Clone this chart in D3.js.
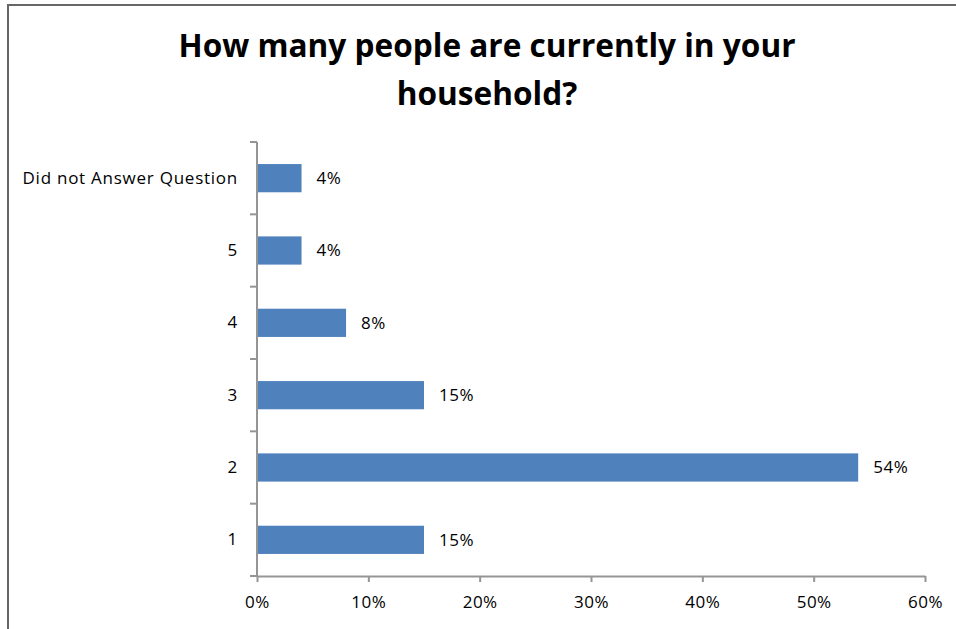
<!DOCTYPE html>
<html>
<head>
<meta charset="utf-8">
<script src="https://cdn.jsdelivr.net/npm/d3@7"></script>
<style>
  html, body { margin: 0; padding: 0; background: #fff; }
  svg { display: block; }
  text { font-family: "Open Sans", sans-serif; fill: #000; }
</style>
</head>
<body>
<svg id="chart" width="956" height="629"></svg>
<script>
// Household size survey responses (share of respondents, %)
const categories = ["1", "2", "3", "4", "5", "Did not Answer Question"];
const values = [15, 54, 15, 8, 4, 4];
const xTicks = [0, 10, 20, 30, 40, 50, 60];
const titleLines = ["How many people are currently in your", "household?"];

const svg = d3.select("#chart");
const W = 956, H = 629;

// outer frame
svg.append("rect")
  .attr("x", 8).attr("y", 5)
  .attr("width", W + 10).attr("height", H + 10)
  .attr("fill", "#fff")
  .attr("stroke", "#676767")
  .attr("stroke-width", 2);

const margin = { left: 257, right: 31, top: 142, bottom: 53 };
const plotW = W - margin.left - margin.right;
const plotH = H - margin.top - margin.bottom;

const x = d3.scaleLinear().domain([0, 60]).range([0, plotW]);
const y = d3.scaleBand()
  .domain(categories.slice().reverse())
  .range([0, plotH])
  .paddingInner(0.61)
  .paddingOuter(0.305);

const g = svg.append("g").attr("transform", `translate(${margin.left},${margin.top})`);

// title
svg.append("g").selectAll("text")
  .data(titleLines)
  .join("text")
  .attr("x", 487)
  .attr("y", (d, i) => 57 + i * 48)
  .attr("text-anchor", "middle")
  .style("font-size", "31.6px")
  .style("font-weight", "bold")
  .text(d => d);

const rows = categories.map((c, i) => ({ c, v: values[i] }));

// bars
g.selectAll("rect.bar")
  .data(rows)
  .join("rect")
  .attr("class", "bar")
  .attr("x", 0)
  .attr("y", d => y(d.c))
  .attr("width", d => x(d.v))
  .attr("height", y.bandwidth())
  .attr("fill", "#4f81bd");

// value labels
g.selectAll("text.val")
  .data(rows)
  .join("text")
  .attr("class", "val")
  .attr("x", d => x(d.v) + 15)
  .attr("y", d => y(d.c) + y.bandwidth() / 2)
  .attr("dy", "0.35em")
  .style("font-size", "17px")
  .style("letter-spacing", "0.5px")
  .text(d => d.v + "%");

// x axis
const xAxis = g.append("g")
  .attr("transform", `translate(0,${plotH})`)
  .call(d3.axisBottom(x).tickValues(xTicks).tickFormat(d => d + "%").tickSize(6).tickSizeOuter(0).tickPadding(14));
xAxis.select(".domain").attr("stroke", "#959595").attr("stroke-width", 2);
xAxis.selectAll(".tick line").attr("stroke", "#959595").attr("stroke-width", 2);
xAxis.selectAll("text")
  .style("font-size", "17px")
  .style("letter-spacing", "0.5px")
  .style("font-family", "'Open Sans', sans-serif")
  .attr("fill", "#000");

// y axis: category labels
const yAxis = g.append("g")
  .call(d3.axisLeft(y).tickSize(0).tickPadding(19));
yAxis.select(".domain").attr("stroke", "#959595").attr("stroke-width", 2)
  .attr("d", `M0,0V${plotH}`);
yAxis.selectAll("text")
  .style("font-size", "17px")
  .style("letter-spacing", "0.75px")
  .style("font-family", "'Open Sans', sans-serif")
  .attr("fill", "#000");

// y axis: tick marks between categories
const step = plotH / categories.length;
g.append("g").selectAll("line")
  .data(d3.range(categories.length + 1))
  .join("line")
  .attr("x1", -7).attr("x2", 0)
  .attr("y1", d => d * step).attr("y2", d => d * step)
  .attr("stroke", "#959595")
  .attr("stroke-width", 2);
</script>
</body>
</html>
